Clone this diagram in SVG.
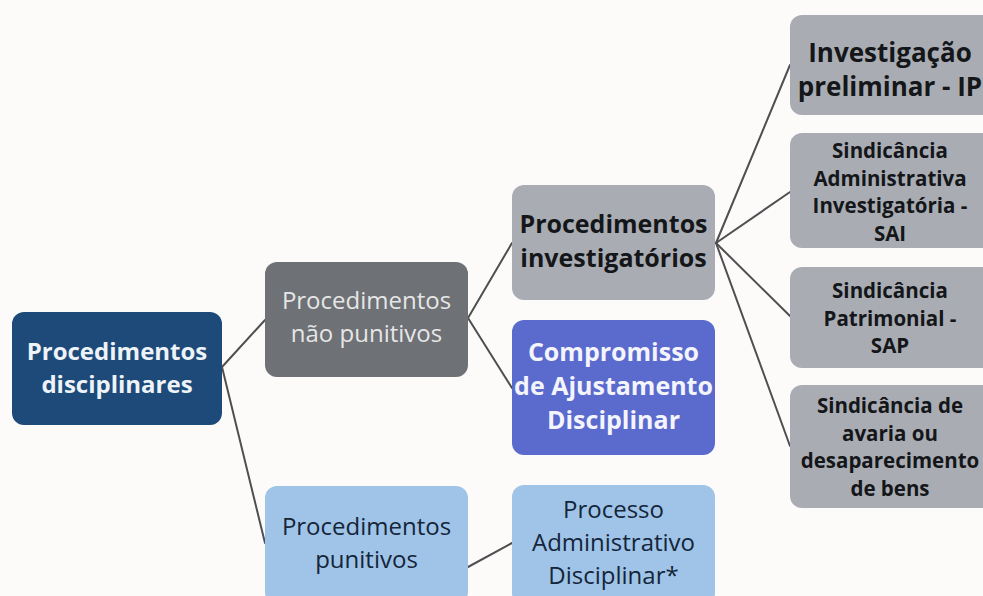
<svg xmlns="http://www.w3.org/2000/svg" width="983" height="596" viewBox="0 0 983 596">
<defs>
<style>
.box{stroke:none}
.bold{font-family:"Open Sans","Noto Sans","Liberation Sans",sans-serif;font-weight:700;text-anchor:middle}
.reg{font-family:"Open Sans","Noto Sans","Liberation Sans",sans-serif;font-weight:400;text-anchor:middle}
.conn{stroke:#4f4f52;stroke-width:2;fill:none;stroke-linecap:round}
.dark{fill:#141619}
.grayR{fill:#a9adb3}
</style>
</defs>
<rect x="0" y="0" width="983" height="596" fill="#fdfafa"/>
<g id="connectors">
<line class="conn" x1="222" y1="367" x2="265" y2="320"/>
<line class="conn" x1="222" y1="367" x2="265" y2="543"/>
<line class="conn" x1="468" y1="318" x2="512" y2="243"/>
<line class="conn" x1="468" y1="318" x2="512" y2="388"/>
<line class="conn" x1="468" y1="567" x2="512" y2="543"/>
<line class="conn" x1="716" y1="243" x2="790" y2="65"/>
<line class="conn" x1="716" y1="243" x2="790" y2="192"/>
<line class="conn" x1="716" y1="243" x2="790" y2="316"/>
<line class="conn" x1="716" y1="243" x2="790" y2="446"/>
</g>
<g id="root">
<rect class="box" x="12" y="312" width="210" height="113" rx="12" fill="#1d4a78"/>
<text class="bold" font-size="24" fill="#eef3f8"><tspan x="117" y="360">Procedimentos</tspan><tspan x="117" y="393">disciplinares</tspan></text>
</g>
<g id="nao-punitivos">
<rect class="box" x="265" y="262" width="203" height="115" rx="12" fill="#6e7175"/>
<text class="reg" font-size="24" fill="#e6e6e6"><tspan x="366.5" y="309">Procedimentos</tspan><tspan x="366.5" y="342">não punitivos</tspan></text>
</g>
<g id="punitivos">
<rect class="box" x="265" y="486" width="203" height="118" rx="12" fill="#9fc4e7"/>
<text class="reg" font-size="24" fill="#15253a"><tspan x="366.5" y="535">Procedimentos</tspan><tspan x="366.5" y="568">punitivos</tspan></text>
</g>
<g id="investigatorios">
<rect class="box grayR" x="512" y="185" width="203" height="115" rx="12"/>
<text class="bold dark" font-size="25"><tspan x="613.5" y="233">Procedimentos</tspan><tspan x="613.5" y="267">investigatórios</tspan></text>
</g>
<g id="compromisso">
<rect class="box" x="512" y="320" width="203" height="135" rx="12" fill="#5b6acd"/>
<text class="bold" font-size="25" fill="#f4f5fc"><tspan x="613.5" y="361">Compromisso</tspan><tspan x="613.5" y="395">de Ajustamento</tspan><tspan x="613.5" y="429">Disciplinar</tspan></text>
</g>
<g id="processo">
<rect class="box" x="512" y="485" width="203" height="120" rx="12" fill="#9fc4e7"/>
<text class="reg" font-size="24" fill="#15253a"><tspan x="613.5" y="518">Processo</tspan><tspan x="613.5" y="551">Administrativo</tspan><tspan x="613.5" y="584">Disciplinar*</tspan></text>
</g>
<g id="ip">
<rect class="box grayR" x="790" y="15" width="205" height="100" rx="12"/>
<text class="bold dark" font-size="26"><tspan x="890" y="62">Investigação</tspan><tspan x="890" y="96">preliminar - IP</tspan></text>
</g>
<g id="sai">
<rect class="box grayR" x="790" y="133" width="205" height="115" rx="12"/>
<text class="bold dark" font-size="20.5"><tspan x="890" y="158">Sindicância</tspan><tspan x="890" y="185.5">Administrativa</tspan><tspan x="890" y="213">Investigatória -</tspan><tspan x="890" y="240.5">SAI</tspan></text>
</g>
<g id="sap">
<rect class="box grayR" x="790" y="267" width="205" height="101" rx="12"/>
<text class="bold dark" font-size="20.5"><tspan x="890" y="298">Sindicância</tspan><tspan x="890" y="325.5">Patrimonial -</tspan><tspan x="890" y="353">SAP</tspan></text>
</g>
<g id="avaria">
<rect class="box grayR" x="790" y="385" width="205" height="123" rx="12"/>
<text class="bold dark" font-size="20.5"><tspan x="890" y="413">Sindicância de</tspan><tspan x="890" y="440.5">avaria ou</tspan><tspan x="890" y="468">desaparecimento</tspan><tspan x="890" y="495.5">de bens</tspan></text>
</g>
</svg>
